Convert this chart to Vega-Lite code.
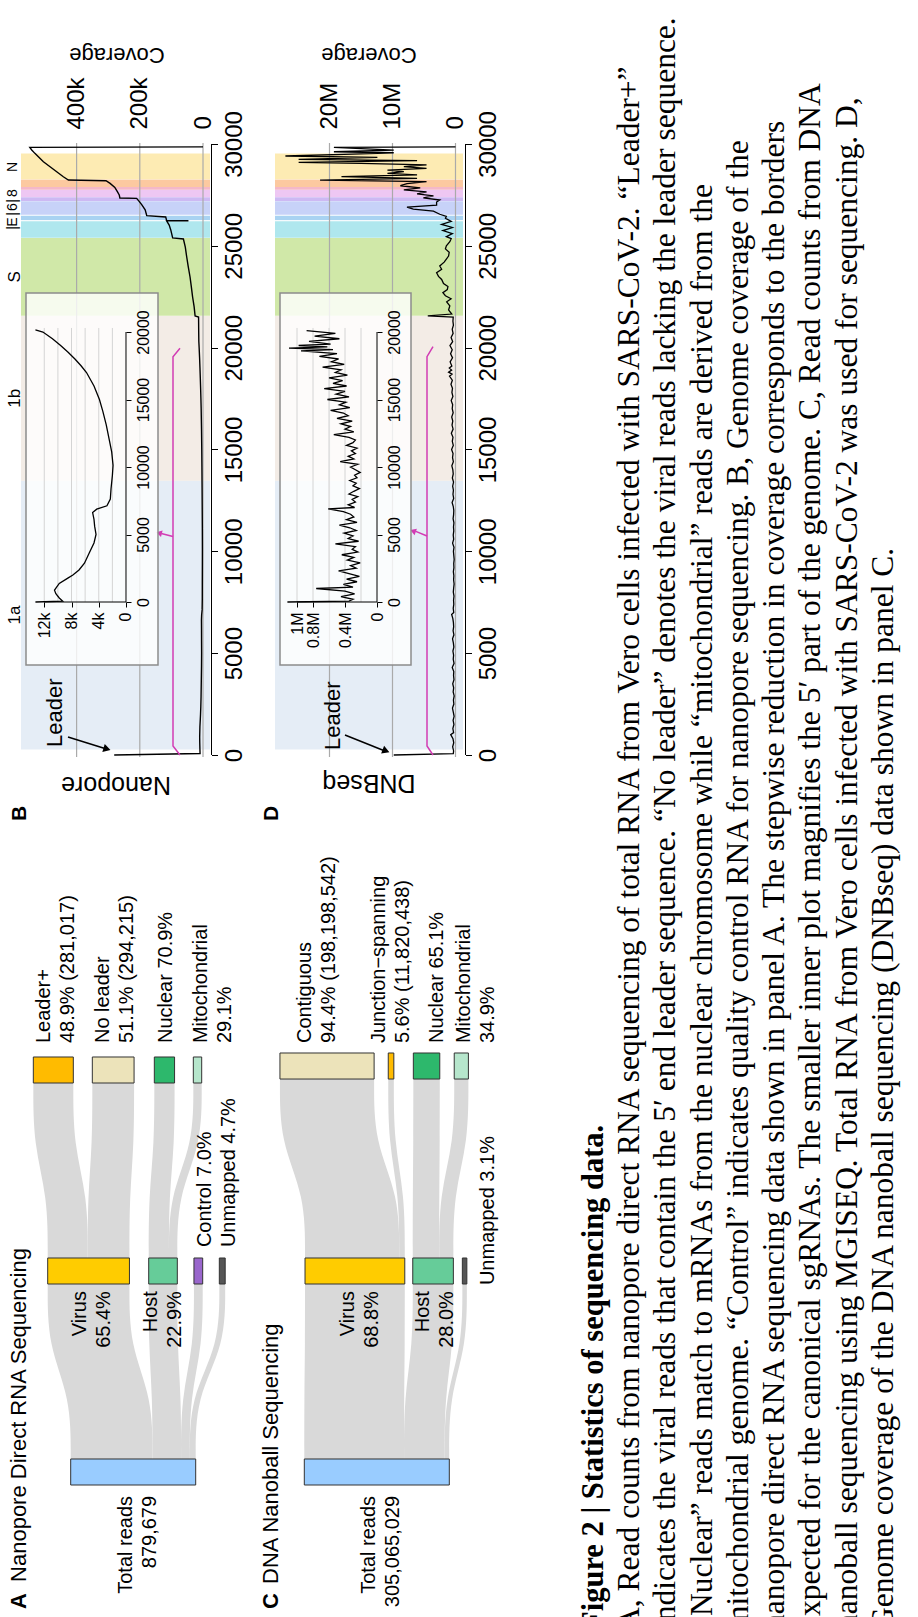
{
"$schema": "https://vega.github.io/schema/vega-lite/v6.json",
"width": 918, "height": 1617,
"autosize": {"type": "none"},
"padding": 0,
"background": "white",
"config": {"view": {"stroke": null}, "font": "Liberation Sans", "axis": {"labelColor": "#000", "tickColor": "#000", "labelFont": "Liberation Sans"}},
"datasets": {
"genes": [
{"gene":"ORF1a","start":266,"end":13483},{"gene":"ORF1b","start":13468,"end":21555},{"gene":"S","start":21563,"end":25384},{"gene":"ORF3a","start":25393,"end":26220},{"gene":"E","start":26245,"end":26472},{"gene":"M","start":26523,"end":27191},{"gene":"ORF6","start":27202,"end":27387},{"gene":"ORF7a","start":27394,"end":27759},{"gene":"ORF7b","start":27756,"end":27887},{"gene":"ORF8","start":27894,"end":28259},{"gene":"N","start":28274,"end":29533}],
"covB": [
{"pos":0,"cov":281017},{"pos":70,"cov":9300},{"pos":300,"cov":9800},{"pos":620,"cov":10300},{"pos":875,"cov":10500},{"pos":1375,"cov":9800},{"pos":1750,"cov":8600},{"pos":2000,"cov":7800},{"pos":2375,"cov":6900},{"pos":2875,"cov":6100},{"pos":3625,"cov":5400},{"pos":4375,"cov":4700},{"pos":5000,"cov":4400},{"pos":5600,"cov":4600},{"pos":6125,"cov":4700},{"pos":6625,"cov":4900},{"pos":6875,"cov":4300},{"pos":7125,"cov":2800},{"pos":7625,"cov":2300},{"pos":8375,"cov":2200},{"pos":9375,"cov":2000},{"pos":10125,"cov":1900},{"pos":11125,"cov":2100},{"pos":12125,"cov":2500},{"pos":13125,"cov":2900},{"pos":14125,"cov":3400},{"pos":15000,"cov":3900},{"pos":16000,"cov":4700},{"pos":17000,"cov":5800},{"pos":17500,"cov":6600},{"pos":18000,"cov":7500},{"pos":18500,"cov":8500},{"pos":19000,"cov":9600},{"pos":19500,"cov":10800},{"pos":20000,"cov":12200},{"pos":20300,"cov":13200},{"pos":20800,"cov":13600},{"pos":21500,"cov":14000},{"pos":21560,"cov":25000},{"pos":22000,"cov":28000},{"pos":22500,"cov":33000},{"pos":23000,"cov":37000},{"pos":23470,"cov":41000},{"pos":24000,"cov":47000},{"pos":24500,"cov":52000},{"pos":24940,"cov":56000},{"pos":25335,"cov":62000},{"pos":25390,"cov":96000},{"pos":25780,"cov":102000},{"pos":26020,"cov":107000},{"pos":26225,"cov":115000},{"pos":26230,"cov":46000},{"pos":26240,"cov":115000},{"pos":26415,"cov":118000},{"pos":26480,"cov":178000},{"pos":26770,"cov":183000},{"pos":27020,"cov":194000},{"pos":27180,"cov":202000},{"pos":27330,"cov":210000},{"pos":27350,"cov":263000},{"pos":27495,"cov":265000},{"pos":27660,"cov":271000},{"pos":27870,"cov":279000},{"pos":28065,"cov":294000},{"pos":28195,"cov":307000},{"pos":28230,"cov":426000},{"pos":28390,"cov":442000},{"pos":28640,"cov":463000},{"pos":28885,"cov":484000},{"pos":29130,"cov":505000},{"pos":29375,"cov":521000},{"pos":29540,"cov":532000},{"pos":29705,"cov":542000},{"pos":29835,"cov":548000},{"pos":29860,"cov":0}],
"innerB": [
{"pos":0,"cov":13300},{"pos":70,"cov":9300},{"pos":300,"cov":9800},{"pos":620,"cov":10300},{"pos":875,"cov":10500},{"pos":1375,"cov":9800},{"pos":1750,"cov":8600},{"pos":2000,"cov":7800},{"pos":2375,"cov":6900},{"pos":2875,"cov":6100},{"pos":3625,"cov":5400},{"pos":4375,"cov":4700},{"pos":5000,"cov":4400},{"pos":5600,"cov":4600},{"pos":6125,"cov":4700},{"pos":6625,"cov":4900},{"pos":6875,"cov":4300},{"pos":7125,"cov":2800},{"pos":7625,"cov":2300},{"pos":8375,"cov":2200},{"pos":9375,"cov":2000},{"pos":10125,"cov":1900},{"pos":11125,"cov":2100},{"pos":12125,"cov":2500},{"pos":13125,"cov":2900},{"pos":14125,"cov":3400},{"pos":15000,"cov":3900},{"pos":16000,"cov":4700},{"pos":17000,"cov":5800},{"pos":17500,"cov":6600},{"pos":18000,"cov":7500},{"pos":18500,"cov":8500},{"pos":19000,"cov":9600},{"pos":19500,"cov":10800},{"pos":20000,"cov":12200},{"pos":20150,"cov":13300}],
"covD": [
{"pos":0,"cov":9800000},{"pos":70,"cov":350000},{"pos":200,"cov":300000},{"pos":400,"cov":450000},{"pos":600,"cov":280000},{"pos":800,"cov":400000},{"pos":1000,"cov":760000},{"pos":1100,"cov":300000},{"pos":1300,"cov":420000},{"pos":1500,"cov":250000},{"pos":1700,"cov":380000},{"pos":1900,"cov":220000},{"pos":2100,"cov":350000},{"pos":2300,"cov":480000},{"pos":2500,"cov":260000},{"pos":2700,"cov":330000},{"pos":2900,"cov":210000},{"pos":3100,"cov":370000},{"pos":3300,"cov":290000},{"pos":3500,"cov":440000},{"pos":3700,"cov":240000},{"pos":3900,"cov":310000},{"pos":4100,"cov":270000},{"pos":4300,"cov":520000},{"pos":4500,"cov":230000},{"pos":4700,"cov":360000},{"pos":4900,"cov":300000},{"pos":5100,"cov":410000},{"pos":5300,"cov":260000},{"pos":5500,"cov":340000},{"pos":5700,"cov":470000},{"pos":5900,"cov":250000},{"pos":6100,"cov":380000},{"pos":6300,"cov":290000},{"pos":6500,"cov":330000},{"pos":6700,"cov":420000},{"pos":6900,"cov":610000},{"pos":7000,"cov":280000},{"pos":7200,"cov":360000},{"pos":7400,"cov":270000},{"pos":7600,"cov":310000},{"pos":7800,"cov":240000},{"pos":8000,"cov":350000},{"pos":8200,"cov":290000},{"pos":8400,"cov":220000},{"pos":8600,"cov":300000},{"pos":8800,"cov":260000},{"pos":9000,"cov":340000},{"pos":9200,"cov":250000},{"pos":9400,"cov":280000},{"pos":9600,"cov":210000},{"pos":9800,"cov":270000},{"pos":10000,"cov":330000},{"pos":10200,"cov":240000},{"pos":10400,"cov":460000},{"pos":10600,"cov":290000},{"pos":10800,"cov":360000},{"pos":11000,"cov":270000},{"pos":11200,"cov":320000},{"pos":11400,"cov":250000},{"pos":11600,"cov":380000},{"pos":11800,"cov":300000},{"pos":12000,"cov":270000},{"pos":12200,"cov":350000},{"pos":12400,"cov":540000},{"pos":12600,"cov":290000},{"pos":12800,"cov":400000},{"pos":13000,"cov":330000},{"pos":13200,"cov":450000},{"pos":13400,"cov":310000},{"pos":13600,"cov":500000},{"pos":13800,"cov":360000},{"pos":14000,"cov":420000},{"pos":14200,"cov":580000},{"pos":14400,"cov":340000},{"pos":14600,"cov":470000},{"pos":14800,"cov":390000},{"pos":15000,"cov":620000},{"pos":15200,"cov":350000},{"pos":15400,"cov":510000},{"pos":15600,"cov":400000},{"pos":15800,"cov":660000},{"pos":16000,"cov":380000},{"pos":16200,"cov":550000},{"pos":16400,"cov":430000},{"pos":16600,"cov":600000},{"pos":16800,"cov":370000},{"pos":17000,"cov":520000},{"pos":17200,"cov":450000},{"pos":17400,"cov":680000},{"pos":17600,"cov":410000},{"pos":17800,"cov":570000},{"pos":18000,"cov":480000},{"pos":18200,"cov":720000},{"pos":18400,"cov":500000},{"pos":18600,"cov":950000},{"pos":18700,"cov":550000},{"pos":18800,"cov":1100000},{"pos":18900,"cov":620000},{"pos":19000,"cov":980000},{"pos":19100,"cov":580000},{"pos":19300,"cov":850000},{"pos":19500,"cov":470000},{"pos":19700,"cov":780000},{"pos":19900,"cov":520000},{"pos":20100,"cov":880000},{"pos":20300,"cov":450000},{"pos":20500,"cov":700000},{"pos":20700,"cov":380000},{"pos":20900,"cov":520000},{"pos":21100,"cov":330000},{"pos":21300,"cov":410000},{"pos":21500,"cov":360000},{"pos":21560,"cov":4400000},{"pos":21650,"cov":600000},{"pos":21850,"cov":1100000},{"pos":22050,"cov":900000},{"pos":22250,"cov":1400000},{"pos":22400,"cov":700000},{"pos":22550,"cov":1600000},{"pos":22700,"cov":2000000},{"pos":22850,"cov":1300000},{"pos":23000,"cov":1200000},{"pos":23150,"cov":1900000},{"pos":23350,"cov":2200000},{"pos":23500,"cov":2700000},{"pos":23680,"cov":3000000},{"pos":23850,"cov":2200000},{"pos":24010,"cov":2500000},{"pos":24200,"cov":1800000},{"pos":24350,"cov":1450000},{"pos":24500,"cov":1100000},{"pos":24680,"cov":1000000},{"pos":24850,"cov":1600000},{"pos":25000,"cov":1450000},{"pos":25200,"cov":900000},{"pos":25350,"cov":680000},{"pos":25450,"cov":1450000},{"pos":25600,"cov":500000},{"pos":25750,"cov":2000000},{"pos":25900,"cov":500000},{"pos":26050,"cov":2200000},{"pos":26200,"cov":680000},{"pos":26350,"cov":1600000},{"pos":26450,"cov":1450000},{"pos":26550,"cov":2500000},{"pos":26700,"cov":3500000},{"pos":26800,"cov":6700000},{"pos":26900,"cov":7700000},{"pos":27000,"cov":3000000},{"pos":27150,"cov":3000000},{"pos":27250,"cov":2500000},{"pos":27350,"cov":5100000},{"pos":27450,"cov":3500000},{"pos":27550,"cov":6100000},{"pos":27650,"cov":4600000},{"pos":27750,"cov":8200000},{"pos":27850,"cov":5600000},{"pos":27950,"cov":8750000},{"pos":28050,"cov":7700000},{"pos":28150,"cov":4600000},{"pos":28230,"cov":21500000},{"pos":28315,"cov":6100000},{"pos":28395,"cov":18100000},{"pos":28480,"cov":6100000},{"pos":28560,"cov":10800000},{"pos":28640,"cov":8200000},{"pos":28720,"cov":10800000},{"pos":28805,"cov":4600000},{"pos":28885,"cov":8200000},{"pos":28970,"cov":4600000},{"pos":29050,"cov":15000000},{"pos":29100,"cov":24900000},{"pos":29180,"cov":6100000},{"pos":29245,"cov":24900000},{"pos":29345,"cov":12400000},{"pos":29410,"cov":27000000},{"pos":29510,"cov":15000000},{"pos":29570,"cov":9800000},{"pos":29620,"cov":19300000},{"pos":29700,"cov":9800000},{"pos":29835,"cov":19300000},{"pos":29860,"cov":0}],
"innerD": [
{"pos":0,"cov":1120000},{"pos":70,"cov":350000},{"pos":200,"cov":300000},{"pos":400,"cov":450000},{"pos":600,"cov":280000},{"pos":800,"cov":400000},{"pos":1000,"cov":760000},{"pos":1100,"cov":300000},{"pos":1300,"cov":420000},{"pos":1500,"cov":250000},{"pos":1700,"cov":380000},{"pos":1900,"cov":220000},{"pos":2100,"cov":350000},{"pos":2300,"cov":480000},{"pos":2500,"cov":260000},{"pos":2700,"cov":330000},{"pos":2900,"cov":210000},{"pos":3100,"cov":370000},{"pos":3300,"cov":290000},{"pos":3500,"cov":440000},{"pos":3700,"cov":240000},{"pos":3900,"cov":310000},{"pos":4100,"cov":270000},{"pos":4300,"cov":520000},{"pos":4500,"cov":230000},{"pos":4700,"cov":360000},{"pos":4900,"cov":300000},{"pos":5100,"cov":410000},{"pos":5300,"cov":260000},{"pos":5500,"cov":340000},{"pos":5700,"cov":470000},{"pos":5900,"cov":250000},{"pos":6100,"cov":380000},{"pos":6300,"cov":290000},{"pos":6500,"cov":330000},{"pos":6700,"cov":420000},{"pos":6900,"cov":610000},{"pos":7000,"cov":280000},{"pos":7200,"cov":360000},{"pos":7400,"cov":270000},{"pos":7600,"cov":310000},{"pos":7800,"cov":240000},{"pos":8000,"cov":350000},{"pos":8200,"cov":290000},{"pos":8400,"cov":220000},{"pos":8600,"cov":300000},{"pos":8800,"cov":260000},{"pos":9000,"cov":340000},{"pos":9200,"cov":250000},{"pos":9400,"cov":280000},{"pos":9600,"cov":210000},{"pos":9800,"cov":270000},{"pos":10000,"cov":330000},{"pos":10200,"cov":240000},{"pos":10400,"cov":460000},{"pos":10600,"cov":290000},{"pos":10800,"cov":360000},{"pos":11000,"cov":270000},{"pos":11200,"cov":320000},{"pos":11400,"cov":250000},{"pos":11600,"cov":380000},{"pos":11800,"cov":300000},{"pos":12000,"cov":270000},{"pos":12200,"cov":350000},{"pos":12400,"cov":540000},{"pos":12600,"cov":290000},{"pos":12800,"cov":400000},{"pos":13000,"cov":330000},{"pos":13200,"cov":450000},{"pos":13400,"cov":310000},{"pos":13600,"cov":500000},{"pos":13800,"cov":360000},{"pos":14000,"cov":420000},{"pos":14200,"cov":580000},{"pos":14400,"cov":340000},{"pos":14600,"cov":470000},{"pos":14800,"cov":390000},{"pos":15000,"cov":620000},{"pos":15200,"cov":350000},{"pos":15400,"cov":510000},{"pos":15600,"cov":400000},{"pos":15800,"cov":660000},{"pos":16000,"cov":380000},{"pos":16200,"cov":550000},{"pos":16400,"cov":430000},{"pos":16600,"cov":600000},{"pos":16800,"cov":370000},{"pos":17000,"cov":520000},{"pos":17200,"cov":450000},{"pos":17400,"cov":680000},{"pos":17600,"cov":410000},{"pos":17800,"cov":570000},{"pos":18000,"cov":480000},{"pos":18200,"cov":720000},{"pos":18400,"cov":500000},{"pos":18600,"cov":950000},{"pos":18700,"cov":550000},{"pos":18800,"cov":1100000},{"pos":18900,"cov":620000},{"pos":19000,"cov":980000},{"pos":19100,"cov":580000},{"pos":19300,"cov":850000},{"pos":19500,"cov":470000},{"pos":19700,"cov":780000},{"pos":19900,"cov":520000},{"pos":20100,"cov":880000}],
"flowsA": [
{"flow":"f1","s":0.0647,"lo":0,"hi":65.4},{"flow":"f1","s":0.3694,"lo":0,"hi":65.4},{"flow":"f1","s":0.6306,"lo":-18.4,"hi":47.0},{"flow":"f1","s":0.9353,"lo":-18.4,"hi":47.0},
{"flow":"f2","s":0.0647,"lo":65.4,"hi":88.3},{"flow":"f2","s":0.3694,"lo":65.4,"hi":88.3},{"flow":"f2","s":0.6306,"lo":62.4,"hi":85.3},{"flow":"f2","s":0.9353,"lo":62.4,"hi":85.3},
{"flow":"f3","s":0.0647,"lo":88.3,"hi":95.3},{"flow":"f3","s":0.3694,"lo":88.3,"hi":95.3},{"flow":"f3","s":0.6306,"lo":98.6,"hi":105.6},{"flow":"f3","s":0.9353,"lo":98.6,"hi":105.6},
{"flow":"f4","s":0.0647,"lo":95.3,"hi":100},{"flow":"f4","s":0.3694,"lo":95.3,"hi":100},{"flow":"f4","s":0.6306,"lo":118.9,"hi":123.6},{"flow":"f4","s":0.9353,"lo":118.9,"hi":123.6},
{"flow":"f5","s":1.0647,"lo":-18.4,"hi":13.6},{"flow":"f5","s":1.3694,"lo":-18.4,"hi":13.6},{"flow":"f5","s":1.6306,"lo":-29.9,"hi":2.1},{"flow":"f5","s":1.9353,"lo":-29.9,"hi":2.1},
{"flow":"f6","s":1.0647,"lo":13.6,"hi":47.0},{"flow":"f6","s":1.3694,"lo":13.6,"hi":47.0},{"flow":"f6","s":1.6306,"lo":17.3,"hi":50.7},{"flow":"f6","s":1.9353,"lo":17.3,"hi":50.7},
{"flow":"f7","s":1.0647,"lo":62.4,"hi":78.6},{"flow":"f7","s":1.3694,"lo":62.4,"hi":78.6},{"flow":"f7","s":1.6306,"lo":66.9,"hi":83.1},{"flow":"f7","s":1.9353,"lo":66.9,"hi":83.1},
{"flow":"f8","s":1.0647,"lo":78.6,"hi":85.3},{"flow":"f8","s":1.3694,"lo":78.6,"hi":85.3},{"flow":"f8","s":1.6306,"lo":98.1,"hi":104.8},{"flow":"f8","s":1.9353,"lo":98.1,"hi":104.8}],
"flowsC": [
{"flow":"g1","s":0.0647,"lo":0,"hi":68.8},{"flow":"g1","s":0.3694,"lo":0,"hi":68.8},{"flow":"g1","s":0.6306,"lo":0.5,"hi":69.3},{"flow":"g1","s":0.9353,"lo":0.5,"hi":69.3},
{"flow":"g2","s":0.0647,"lo":68.8,"hi":96.8},{"flow":"g2","s":0.3694,"lo":68.8,"hi":96.8},{"flow":"g2","s":0.6306,"lo":74.8,"hi":102.8},{"flow":"g2","s":0.9353,"lo":74.8,"hi":102.8},
{"flow":"g3","s":0.0647,"lo":96.8,"hi":99.9},{"flow":"g3","s":0.3694,"lo":96.8,"hi":99.9},{"flow":"g3","s":0.6306,"lo":109,"hi":112.1},{"flow":"g3","s":0.9353,"lo":109,"hi":112.1},
{"flow":"g4","s":1.0647,"lo":0.5,"hi":65.45},{"flow":"g4","s":1.3763,"lo":0.5,"hi":65.45},{"flow":"g4","s":1.6434,"lo":-16.8,"hi":48.15},{"flow":"g4","s":1.955,"lo":-16.8,"hi":48.15},
{"flow":"g5","s":1.0647,"lo":65.45,"hi":69.3},{"flow":"g5","s":1.3763,"lo":65.45,"hi":69.3},{"flow":"g5","s":1.6434,"lo":57.9,"hi":61.75},{"flow":"g5","s":1.955,"lo":57.9,"hi":61.75},
{"flow":"g6","s":1.0647,"lo":74.8,"hi":93.03},{"flow":"g6","s":1.3763,"lo":74.8,"hi":93.03},{"flow":"g6","s":1.6434,"lo":75.2,"hi":93.43},{"flow":"g6","s":1.955,"lo":75.2,"hi":93.43},
{"flow":"g7","s":1.0647,"lo":93.03,"hi":102.8},{"flow":"g7","s":1.3763,"lo":93.03,"hi":102.8},{"flow":"g7","s":1.6434,"lo":103.4,"hi":113.17},{"flow":"g7","s":1.955,"lo":103.4,"hi":113.17}],
"nodesA": [
{"node":"Total","x0":0,"x1":100,"y0":-0.0647,"y1":0.0647},{"node":"Virus","x0":-18.4,"x1":47.0,"y0":0.9353,"y1":1.0647},{"node":"Host","x0":62.4,"x1":85.3,"y0":0.9353,"y1":1.0647},{"node":"Control","x0":98.6,"x1":105.6,"y0":0.9353,"y1":1.0647},{"node":"Unmapped","x0":118.9,"x1":123.6,"y0":0.9353,"y1":1.0647},{"node":"Leader+","x0":-29.9,"x1":2.1,"y0":1.9353,"y1":2.0647},{"node":"No leader","x0":17.3,"x1":50.7,"y0":1.9353,"y1":2.0647},{"node":"Nuclear","x0":66.9,"x1":83.1,"y0":1.9353,"y1":2.0647},{"node":"Mitochondrial","x0":98.1,"x1":104.8,"y0":1.9353,"y1":2.0647}],
"nodesC": [
{"node":"Total","x0":0,"x1":100,"y0":-0.0647,"y1":0.0647},{"node":"Virus","x0":0.5,"x1":69.3,"y0":0.9353,"y1":1.0647},{"node":"Host","x0":74.8,"x1":102.8,"y0":0.9353,"y1":1.0647},{"node":"Unmapped","x0":109,"x1":112.1,"y0":0.9353,"y1":1.0647},{"node":"Contiguous","x0":-16.8,"x1":48.15,"y0":1.955,"y1":2.0846},{"node":"Junction-spanning","x0":57.9,"x1":61.75,"y0":1.955,"y1":2.0846},{"node":"Nuclear","x0":75.2,"x1":93.43,"y0":1.955,"y1":2.0846},{"node":"Mitochondrial","x0":103.4,"x1":113.17,"y0":1.955,"y1":2.0846}],
"belowA": [{"l1":"Total reads","l2":"879,679","x":44.2,"s":-0.119},{"l1":"Virus","l2":"65.4%","x":7.2,"s":0.9},{"l1":"Host","l2":"22.9%","x":64.2,"s":0.9}],
"aboveA": [{"l1":"Leader+","l2":"48.9% (281,017)","x":-21.0,"s":2.134},{"l1":"No leader","l2":"51.1% (294,215)","x":25.8,"s":2.134},{"l1":"Nuclear 70.9%","l2":"","x":75.9,"s":2.134},{"l1":"Mitochondrial","l2":"29.1%","x":104.0,"s":2.134},{"l1":"Control 7.0%","l2":"Unmapped 4.7%","x":107.4,"s":1.119}],
"belowC": [{"l1":"Total reads","l2":"305,065,029","x":44.8,"s":-0.119},{"l1":"Virus","l2":"68.8%","x":29.9,"s":0.9},{"l1":"Host","l2":"28.0%","x":81.7,"s":0.9}],
"aboveC": [{"l1":"Contiguous","l2":"94.4% (198,198,542)","x":0.8,"s":2.134},{"l1":"Junction−spanning","l2":"5.6% (11,820,438)","x":51.7,"s":2.134},{"l1":"Nuclear 65.1%","l2":"","x":91.7,"s":2.134},{"l1":"Mitochondrial","l2":"34.9%","x":110.4,"s":2.134},{"l1":"Unmapped 3.1%","l2":"","x":126.5,"s":0.93}],
"caption": [
{"line":1,"text":"Figure 2 | Statistics of sequencing data."},
{"line":2,"text":"A, Read counts from nanopore direct RNA sequencing of total RNA from Vero cells infected with SARS-CoV-2.  “Leader+”"},
{"line":3,"text":"indicates the viral reads that contain the 5′ end leader sequence.  “No leader” denotes the viral reads lacking the leader sequence."},
{"line":4,"text":"“Nuclear” reads match to mRNAs from the nuclear chromosome while “mitochondrial” reads are derived from the"},
{"line":5,"text":"mitochondrial genome.  “Control” indicates quality control RNA for nanopore sequencing.  B, Genome coverage of the"},
{"line":6,"text":"nanopore direct RNA sequencing data shown in panel A. The stepwise reduction in coverage corresponds to the borders"},
{"line":7,"text":"expected for the canonical sgRNAs. The smaller inner plot magnifies the 5′ part of the genome.  C, Read counts from DNA"},
{"line":8,"text":"nanoball sequencing using MGISEQ. Total RNA from Vero cells infected with SARS-CoV-2 was used for sequencing.  D,"},
{"line":9,"text":"Genome coverage of the DNA nanoball sequencing (DNBseq) data shown in panel C."}]
},
"resolve": {"scale": {"x": "independent", "y": "independent", "color": "independent"}, "axis": {"x": "independent", "y": "independent"}},
"layer": [
 {"data": {"name": "genes"}, "mark": {"type": "rect"},
  "encoding": {"x": {"datum": 575949, "type": "quantitative", "scale": {"domain": [-2262658, 642405], "reverse": true, "nice": false, "zero": false}, "axis": null}, "x2": {"datum": -22152},
   "y": {"field": "start", "type": "quantitative", "scale": {"domain": [-42324, 37070], "nice": false, "zero": false}, "axis": null}, "y2": {"field": "end"},
   "color": {"field": "gene", "type": "nominal", "scale": {"domain": ["ORF1a","ORF1b","S","ORF3a","E","M","ORF6","ORF7a","ORF7b","ORF8","N"], "range": ["#e5edf6","#f3ece6","#d0e8a8","#afe7ee","#a9d3f2","#c7d2f8","#cdb9f3","#eec7f3","#f4b8c8","#fcc9a0","#fdebb3"]}, "legend": null}}},
 {"data": {"values": [{"b": 26232}]}, "mark": {"type": "rule", "color": "#ffffff", "strokeWidth": 1.2},
  "encoding": {"y": {"field": "b", "type": "quantitative", "scale": {"domain": [-42324, 37070], "nice": false, "zero": false}, "axis": null}, "x": {"datum": 575949, "type": "quantitative", "scale": {"domain": [-2262658, 642405], "reverse": true, "nice": false, "zero": false}, "axis": null}, "x2": {"datum": -22152}}},
 {"data": {"values": [{"g": 0}, {"g": 200000}, {"g": 400000}]}, "mark": {"type": "rule", "color": "#aaaaaa", "strokeWidth": 1.2},
  "encoding": {"x": {"field": "g", "type": "quantitative", "scale": {"domain": [-2262658, 642405], "reverse": true, "nice": false, "zero": false}, "axis": null}, "y": {"datum": -100, "type": "quantitative", "scale": {"domain": [-42324, 37070], "nice": false, "zero": false}, "axis": null}, "y2": {"datum": 30050}}},
 {"data": {"values": [{"a": 0, "b": 30000}]}, "mark": {"type": "rule", "color": "#000000", "strokeWidth": 1},
  "encoding": {"x": {"datum": -26899, "type": "quantitative", "scale": {"domain": [-2262658, 642405], "reverse": true, "nice": false, "zero": false}, "axis": null}, "y": {"field": "a", "type": "quantitative", "scale": {"domain": [-42324, 37070], "nice": false, "zero": false}, "axis": null}, "y2": {"field": "b"}}},
 {"data": {"name": "covB"}, "mark": {"type": "line", "color": "#000000", "strokeWidth": 1.4},
  "encoding": {"x": {"field": "cov", "type": "quantitative", "scale": {"domain": [-2262658, 642405], "reverse": true, "nice": false, "zero": false},
     "axis": {"orient": "top", "offset": -129, "values": [0, 200000, 400000], "labelExpr": "datum.value == 0 ? '0' : format(datum.value / 1000, 'd') + 'k'", "labelAngle": 270, "labelAlign": "left", "labelBaseline": "middle", "labelFontSize": 24, "ticks": false, "tickSize": 0, "labelPadding": 0, "domain": false, "grid": false, "title": null, "labelFlush": false, "labelOverlap": false, "zindex": 2}},
   "y": {"field": "pos", "type": "quantitative", "scale": {"domain": [-42324, 37070], "nice": false, "zero": false},
     "axis": {"orient": "right", "offset": -706.5, "values": [0, 5000, 10000, 15000, 20000, 25000, 30000], "format": "d", "labelAngle": 270, "labelAlign": "center", "labelBaseline": "top", "labelFontSize": 24, "labelPadding": 5, "ticks": true, "tickSize": 6, "tickWidth": 1, "domain": false, "grid": false, "title": null, "labelFlush": false, "labelOverlap": false, "zindex": 2}},
   "order": {"field": "pos", "type": "quantitative"}}},
 {"data": {"values": [{"i": 0, "pos": 0, "cov": 72785}, {"i": 1, "pos": 440, "cov": 94937}, {"i": 2, "pos": 19556, "cov": 94937}, {"i": 3, "pos": 19968, "cov": 72785}]}, "mark": {"type": "line", "color": "#d23cb4", "strokeWidth": 1.5},
  "encoding": {"x": {"field": "cov", "type": "quantitative", "scale": {"domain": [-2262658, 642405], "reverse": true, "nice": false, "zero": false}, "axis": null}, "y": {"field": "pos", "type": "quantitative", "scale": {"domain": [-42324, 37070], "nice": false, "zero": false}, "axis": null}, "order": {"field": "i", "type": "quantitative"}}},
 {"data": {"values": [{"i": 0, "pos": 10728, "cov": 94937}, {"i": 1, "pos": 10880, "cov": 132000}]}, "mark": {"type": "line", "color": "#d23cb4", "strokeWidth": 1.5},
  "encoding": {"x": {"field": "cov", "type": "quantitative", "scale": {"domain": [-2262658, 642405], "reverse": true, "nice": false, "zero": false}, "axis": null}, "y": {"field": "pos", "type": "quantitative", "scale": {"domain": [-42324, 37070], "nice": false, "zero": false}, "axis": null}, "order": {"field": "i", "type": "quantitative"}}},
 {"data": {"values": [{"pos": 10900, "cov": 139241}]}, "mark": {"type": "point", "shape": "triangle-left", "filled": true, "color": "#d23cb4", "size": 45, "angle": 14, "opacity": 1},
  "encoding": {"x": {"field": "cov", "type": "quantitative", "scale": {"domain": [-2262658, 642405], "reverse": true, "nice": false, "zero": false}, "axis": null}, "y": {"field": "pos", "type": "quantitative", "scale": {"domain": [-42324, 37070], "nice": false, "zero": false}, "axis": null}}},
 {"data": {"values": [{"i": 0, "pos": 884, "cov": 427215}, {"i": 1, "pos": 330, "cov": 313000}]}, "mark": {"type": "line", "color": "#000000", "strokeWidth": 1.5},
  "encoding": {"x": {"field": "cov", "type": "quantitative", "scale": {"domain": [-2262658, 642405], "reverse": true, "nice": false, "zero": false}, "axis": null}, "y": {"field": "pos", "type": "quantitative", "scale": {"domain": [-42324, 37070], "nice": false, "zero": false}, "axis": null}, "order": {"field": "i", "type": "quantitative"}}},
 {"data": {"values": [{"pos": 295, "cov": 303797}]}, "mark": {"type": "point", "shape": "triangle-right", "filled": true, "color": "#000000", "size": 70, "angle": 17, "opacity": 1},
  "encoding": {"x": {"field": "cov", "type": "quantitative", "scale": {"domain": [-2262658, 642405], "reverse": true, "nice": false, "zero": false}, "axis": null}, "y": {"field": "pos", "type": "quantitative", "scale": {"domain": [-42324, 37070], "nice": false, "zero": false}, "axis": null}}},
 {"data": {"values": [{"t": "Leader"}]}, "mark": {"type": "text", "angle": 270, "align": "left", "baseline": "alphabetic", "fontSize": 22},
  "encoding": {"x": {"datum": 446203, "type": "quantitative", "scale": {"domain": [-2262658, 642405], "reverse": true, "nice": false, "zero": false}, "axis": null}, "y": {"datum": 393, "type": "quantitative", "scale": {"domain": [-42324, 37070], "nice": false, "zero": false}, "axis": null}, "text": {"field": "t"}}},
 {"data": {"values": [{"t": "1a", "pos": 6875}, {"t": "1b", "pos": 17511}, {"t": "S", "pos": 23473}]}, "mark": {"type": "text", "angle": 270, "align": "center", "baseline": "alphabetic", "fontSize": 17},
  "encoding": {"x": {"datum": 579114, "type": "quantitative", "scale": {"domain": [-2262658, 642405], "reverse": true, "nice": false, "zero": false}, "axis": null}, "y": {"field": "pos", "type": "quantitative", "scale": {"domain": [-42324, 37070], "nice": false, "zero": false}, "axis": null}, "text": {"field": "t"}}},
 {"data": {"values": [{"t": "|", "pos": 25875}, {"t": "E", "pos": 26170}, {"t": "|", "pos": 26563}, {"t": "6", "pos": 26906}, {"t": "|", "pos": 27201}, {"t": "8", "pos": 27594}, {"t": "N", "pos": 28871}]}, "mark": {"type": "text", "angle": 270, "align": "center", "baseline": "alphabetic", "fontSize": 14},
  "encoding": {"x": {"datum": 588608, "type": "quantitative", "scale": {"domain": [-2262658, 642405], "reverse": true, "nice": false, "zero": false}, "axis": null}, "y": {"field": "pos", "type": "quantitative", "scale": {"domain": [-42324, 37070], "nice": false, "zero": false}, "axis": null}, "text": {"field": "t"}}},
 {"data": {"values": [{"t": "Nanopore"}]}, "mark": {"type": "text", "angle": 180, "align": "center", "baseline": "middle", "fontSize": 25},
  "encoding": {"x": {"datum": 275316, "type": "quantitative", "scale": {"domain": [-2262658, 642405], "reverse": true, "nice": false, "zero": false}, "axis": null}, "y": {"datum": -1473, "type": "quantitative", "scale": {"domain": [-42324, 37070], "nice": false, "zero": false}, "axis": null}, "text": {"field": "t"}}},
 {"data": {"values": [{"t": "Coverage"}]}, "mark": {"type": "text", "angle": 180, "align": "center", "baseline": "middle", "fontSize": 22},
  "encoding": {"x": {"datum": 272152, "type": "quantitative", "scale": {"domain": [-2262658, 642405], "reverse": true, "nice": false, "zero": false}, "axis": null}, "y": {"datum": 34370, "type": "quantitative", "scale": {"domain": [-42324, 37070], "nice": false, "zero": false}, "axis": null}, "text": {"field": "t"}}},
 {"data": {"values": [{"t": "B"}]}, "mark": {"type": "text", "angle": 270, "align": "left", "baseline": "alphabetic", "fontSize": 21, "fontWeight": "bold"},
  "encoding": {"x": {"datum": 559177, "type": "quantitative", "scale": {"domain": [-2262658, 642405], "reverse": true, "nice": false, "zero": false}, "axis": null}, "y": {"datum": -3241, "type": "quantitative", "scale": {"domain": [-42324, 37070], "nice": false, "zero": false}, "axis": null}, "text": {"field": "t"}}},

 {"data": {"name": "genes"}, "mark": {"type": "rect"},
  "encoding": {"x": {"datum": 28650794, "type": "quantitative", "scale": {"domain": [-73412698, 72301587], "reverse": true, "nice": false, "zero": false}, "axis": null}, "x2": {"datum": -1190476},
   "y": {"field": "start", "type": "quantitative", "scale": {"domain": [-42324, 37070], "nice": false, "zero": false}, "axis": null}, "y2": {"field": "end"},
   "color": {"field": "gene", "type": "nominal", "scale": {"domain": ["ORF1a","ORF1b","S","ORF3a","E","M","ORF6","ORF7a","ORF7b","ORF8","N"], "range": ["#e5edf6","#f3ece6","#d0e8a8","#afe7ee","#a9d3f2","#c7d2f8","#cdb9f3","#eec7f3","#f4b8c8","#fcc9a0","#fdebb3"]}, "legend": null}}},
 {"data": {"values": [{"b": 26232}]}, "mark": {"type": "rule", "color": "#ffffff", "strokeWidth": 1.2},
  "encoding": {"y": {"field": "b", "type": "quantitative", "scale": {"domain": [-42324, 37070], "nice": false, "zero": false}, "axis": null}, "x": {"datum": 28650794, "type": "quantitative", "scale": {"domain": [-73412698, 72301587], "reverse": true, "nice": false, "zero": false}, "axis": null}, "x2": {"datum": -1190476}}},
 {"data": {"values": [{"g": 0}, {"g": 10000000}, {"g": 20000000}]}, "mark": {"type": "rule", "color": "#aaaaaa", "strokeWidth": 1.2},
  "encoding": {"x": {"field": "g", "type": "quantitative", "scale": {"domain": [-73412698, 72301587], "reverse": true, "nice": false, "zero": false}, "axis": null}, "y": {"datum": -100, "type": "quantitative", "scale": {"domain": [-42324, 37070], "nice": false, "zero": false}, "axis": null}, "y2": {"datum": 30050}}},
 {"data": {"values": [{"a": 0, "b": 30000}]}, "mark": {"type": "rule", "color": "#000000", "strokeWidth": 1},
  "encoding": {"x": {"datum": -1587302, "type": "quantitative", "scale": {"domain": [-73412698, 72301587], "reverse": true, "nice": false, "zero": false}, "axis": null}, "y": {"field": "a", "type": "quantitative", "scale": {"domain": [-42324, 37070], "nice": false, "zero": false}, "axis": null}, "y2": {"field": "b"}}},
 {"data": {"name": "covD"}, "mark": {"type": "line", "color": "#000000", "strokeWidth": 1.3},
  "encoding": {"x": {"field": "cov", "type": "quantitative", "scale": {"domain": [-73412698, 72301587], "reverse": true, "nice": false, "zero": false},
     "axis": {"orient": "top", "offset": -129, "values": [0, 10000000, 20000000], "labelExpr": "datum.value == 0 ? '0' : format(datum.value / 1000000, 'd') + 'M'", "labelAngle": 270, "labelAlign": "left", "labelBaseline": "middle", "labelFontSize": 24, "ticks": false, "tickSize": 0, "labelPadding": 0, "domain": false, "grid": false, "title": null, "labelFlush": false, "labelOverlap": false, "zindex": 2}},
   "y": {"field": "pos", "type": "quantitative", "scale": {"domain": [-42324, 37070], "nice": false, "zero": false},
     "axis": {"orient": "right", "offset": -452.5, "values": [0, 5000, 10000, 15000, 20000, 25000, 30000], "format": "d", "labelAngle": 270, "labelAlign": "center", "labelBaseline": "top", "labelFontSize": 24, "labelPadding": 5, "ticks": true, "tickSize": 6, "tickWidth": 1, "domain": false, "grid": false, "title": null, "labelFlush": false, "labelOverlap": false, "zindex": 2}},
   "order": {"field": "pos", "type": "quantitative"}}},
 {"data": {"values": [{"i": 0, "pos": 0, "cov": 3571429}, {"i": 1, "pos": 440, "cov": 4523810}, {"i": 2, "pos": 19556, "cov": 4523810}, {"i": 3, "pos": 20047, "cov": 3571429}]}, "mark": {"type": "line", "color": "#d23cb4", "strokeWidth": 1.5},
  "encoding": {"x": {"field": "cov", "type": "quantitative", "scale": {"domain": [-73412698, 72301587], "reverse": true, "nice": false, "zero": false}, "axis": null}, "y": {"field": "pos", "type": "quantitative", "scale": {"domain": [-42324, 37070], "nice": false, "zero": false}, "axis": null}, "order": {"field": "i", "type": "quantitative"}}},
 {"data": {"values": [{"i": 0, "pos": 10752, "cov": 4523810}, {"i": 1, "pos": 10980, "cov": 6300000}]}, "mark": {"type": "line", "color": "#d23cb4", "strokeWidth": 1.5},
  "encoding": {"x": {"field": "cov", "type": "quantitative", "scale": {"domain": [-73412698, 72301587], "reverse": true, "nice": false, "zero": false}, "axis": null}, "y": {"field": "pos", "type": "quantitative", "scale": {"domain": [-42324, 37070], "nice": false, "zero": false}, "axis": null}, "order": {"field": "i", "type": "quantitative"}}},
 {"data": {"values": [{"pos": 10998, "cov": 6746032}]}, "mark": {"type": "point", "shape": "triangle-left", "filled": true, "color": "#d23cb4", "size": 45, "angle": 20, "opacity": 1},
  "encoding": {"x": {"field": "cov", "type": "quantitative", "scale": {"domain": [-73412698, 72301587], "reverse": true, "nice": false, "zero": false}, "axis": null}, "y": {"field": "pos", "type": "quantitative", "scale": {"domain": [-42324, 37070], "nice": false, "zero": false}, "axis": null}}},
 {"data": {"values": [{"i": 0, "pos": 982, "cov": 17539683}, {"i": 1, "pos": 230, "cov": 11500000}]}, "mark": {"type": "line", "color": "#000000", "strokeWidth": 1.5},
  "encoding": {"x": {"field": "cov", "type": "quantitative", "scale": {"domain": [-73412698, 72301587], "reverse": true, "nice": false, "zero": false}, "axis": null}, "y": {"field": "pos", "type": "quantitative", "scale": {"domain": [-42324, 37070], "nice": false, "zero": false}, "axis": null}, "order": {"field": "i", "type": "quantitative"}}},
 {"data": {"values": [{"pos": 196, "cov": 11031746}]}, "mark": {"type": "point", "shape": "triangle-right", "filled": true, "color": "#000000", "size": 70, "angle": 21, "opacity": 1},
  "encoding": {"x": {"field": "cov", "type": "quantitative", "scale": {"domain": [-73412698, 72301587], "reverse": true, "nice": false, "zero": false}, "axis": null}, "y": {"field": "pos", "type": "quantitative", "scale": {"domain": [-42324, 37070], "nice": false, "zero": false}, "axis": null}}},
 {"data": {"values": [{"t": "Leader"}]}, "mark": {"type": "text", "angle": 270, "align": "left", "baseline": "alphabetic", "fontSize": 22},
  "encoding": {"x": {"datum": 18396825, "type": "quantitative", "scale": {"domain": [-73412698, 72301587], "reverse": true, "nice": false, "zero": false}, "axis": null}, "y": {"datum": 245, "type": "quantitative", "scale": {"domain": [-42324, 37070], "nice": false, "zero": false}, "axis": null}, "text": {"field": "t"}}},
 {"data": {"values": [{"t": "DNBseq"}]}, "mark": {"type": "text", "angle": 180, "align": "center", "baseline": "middle", "fontSize": 25},
  "encoding": {"x": {"datum": 13730159, "type": "quantitative", "scale": {"domain": [-73412698, 72301587], "reverse": true, "nice": false, "zero": false}, "axis": null}, "y": {"datum": -1375, "type": "quantitative", "scale": {"domain": [-42324, 37070], "nice": false, "zero": false}, "axis": null}, "text": {"field": "t"}}},
 {"data": {"values": [{"t": "Coverage"}]}, "mark": {"type": "text", "angle": 180, "align": "center", "baseline": "middle", "fontSize": 22},
  "encoding": {"x": {"datum": 13730159, "type": "quantitative", "scale": {"domain": [-73412698, 72301587], "reverse": true, "nice": false, "zero": false}, "axis": null}, "y": {"datum": 34370, "type": "quantitative", "scale": {"domain": [-42324, 37070], "nice": false, "zero": false}, "axis": null}, "text": {"field": "t"}}},
 {"data": {"values": [{"t": "D"}]}, "mark": {"type": "text", "angle": 270, "align": "left", "baseline": "alphabetic", "fontSize": 21, "fontWeight": "bold"},
  "encoding": {"x": {"datum": 28174603, "type": "quantitative", "scale": {"domain": [-73412698, 72301587], "reverse": true, "nice": false, "zero": false}, "axis": null}, "y": {"datum": -3241, "type": "quantitative", "scale": {"domain": [-42324, 37070], "nice": false, "zero": false}, "axis": null}, "text": {"field": "t"}}},

 {"data": {"values": [{"a": 14684, "b": -4699, "c": -4667, "d": 22889}]}, "mark": {"type": "rect", "fill": "#ffffff", "fillOpacity": 0.8, "stroke": "#8c8c8c", "strokeWidth": 1.5},
  "encoding": {"x": {"field": "a", "type": "quantitative", "scale": {"domain": [-116300, 18502], "reverse": true, "nice": false, "zero": false}, "axis": null}, "x2": {"field": "b"}, "y": {"field": "c", "type": "quantitative", "scale": {"domain": [-75185, 44593], "nice": false, "zero": false}, "axis": null}, "y2": {"field": "d"}}},
 {"data": {"values": [{"g": 2000}, {"g": 4000}, {"g": 6000}, {"g": 8000}, {"g": 10000}, {"g": 12000}]}, "mark": {"type": "rule", "color": "#d4d4d4", "strokeWidth": 1},
  "encoding": {"x": {"field": "g", "type": "quantitative", "scale": {"domain": [-116300, 18502], "reverse": true, "nice": false, "zero": false}, "axis": null}, "y": {"datum": 0, "type": "quantitative", "scale": {"domain": [-75185, 44593], "nice": false, "zero": false}, "axis": null}, "y2": {"datum": 20300}}},
 {"data": {"values": [{"a": 0, "b": 20000}]}, "mark": {"type": "rule", "color": "#000000", "strokeWidth": 1},
  "encoding": {"x": {"datum": 0, "type": "quantitative", "scale": {"domain": [-116300, 18502], "reverse": true, "nice": false, "zero": false}, "axis": null}, "y": {"field": "a", "type": "quantitative", "scale": {"domain": [-75185, 44593], "nice": false, "zero": false}, "axis": null}, "y2": {"field": "b"}}},
 {"data": {"values": [{"a": 0, "b": 12000}]}, "mark": {"type": "rule", "color": "#000000", "strokeWidth": 1},
  "encoding": {"x": {"field": "a", "type": "quantitative", "scale": {"domain": [-116300, 18502], "reverse": true, "nice": false, "zero": false}, "axis": null}, "x2": {"field": "b"}, "y": {"datum": 0, "type": "quantitative", "scale": {"domain": [-75185, 44593], "nice": false, "zero": false}, "axis": null}}},
 {"data": {"name": "innerB"}, "mark": {"type": "line", "color": "#000000", "strokeWidth": 1.3},
  "encoding": {"x": {"field": "cov", "type": "quantitative", "scale": {"domain": [-116300, 18502], "reverse": true, "nice": false, "zero": false},
     "axis": {"orient": "bottom", "offset": -1015, "values": [0, 4000, 8000, 12000], "labelExpr": "datum.value == 0 ? '0' : format(datum.value / 1000, 'd') + 'k'", "labelAngle": 270, "labelAlign": "right", "labelBaseline": "middle", "labelFontSize": 16, "ticks": true, "tickSize": 5, "labelPadding": 5, "domain": false, "grid": false, "title": null, "labelFlush": false, "labelOverlap": false, "zindex": 2}},
   "y": {"field": "pos", "type": "quantitative", "scale": {"domain": [-75185, 44593], "nice": false, "zero": false},
     "axis": {"orient": "right", "offset": -792, "values": [0, 5000, 10000, 15000, 20000], "format": "d", "labelAngle": 270, "labelAlign": "center", "labelBaseline": "top", "labelFontSize": 16, "labelPadding": 4, "ticks": true, "tickSize": 5, "domain": false, "grid": false, "title": null, "labelFlush": false, "labelOverlap": false, "zindex": 2}},
   "order": {"field": "pos", "type": "quantitative"}}},

 {"data": {"values": [{"a": 1212500, "b": -425000, "c": -4667, "d": 22889}]}, "mark": {"type": "rect", "fill": "#ffffff", "fillOpacity": 0.8, "stroke": "#8c8c8c", "strokeWidth": 1.5},
  "encoding": {"x": {"field": "a", "type": "quantitative", "scale": {"domain": [-6762500, 4712500], "reverse": true, "nice": false, "zero": false}, "axis": null}, "x2": {"field": "b"}, "y": {"field": "c", "type": "quantitative", "scale": {"domain": [-75185, 44593], "nice": false, "zero": false}, "axis": null}, "y2": {"field": "d"}}},
 {"data": {"values": [{"g": 200000}, {"g": 400000}, {"g": 600000}, {"g": 800000}, {"g": 1000000}]}, "mark": {"type": "rule", "color": "#d4d4d4", "strokeWidth": 1},
  "encoding": {"x": {"field": "g", "type": "quantitative", "scale": {"domain": [-6762500, 4712500], "reverse": true, "nice": false, "zero": false}, "axis": null}, "y": {"datum": 0, "type": "quantitative", "scale": {"domain": [-75185, 44593], "nice": false, "zero": false}, "axis": null}, "y2": {"datum": 20300}}},
 {"data": {"values": [{"a": 0, "b": 20000}]}, "mark": {"type": "rule", "color": "#000000", "strokeWidth": 1},
  "encoding": {"x": {"datum": 0, "type": "quantitative", "scale": {"domain": [-6762500, 4712500], "reverse": true, "nice": false, "zero": false}, "axis": null}, "y": {"field": "a", "type": "quantitative", "scale": {"domain": [-75185, 44593], "nice": false, "zero": false}, "axis": null}, "y2": {"field": "b"}}},
 {"data": {"values": [{"a": 0, "b": 1000000}]}, "mark": {"type": "rule", "color": "#000000", "strokeWidth": 1},
  "encoding": {"x": {"field": "a", "type": "quantitative", "scale": {"domain": [-6762500, 4712500], "reverse": true, "nice": false, "zero": false}, "axis": null}, "x2": {"field": "b"}, "y": {"datum": 0, "type": "quantitative", "scale": {"domain": [-75185, 44593], "nice": false, "zero": false}, "axis": null}}},
 {"data": {"name": "innerD"}, "mark": {"type": "line", "color": "#000000", "strokeWidth": 1.3},
  "encoding": {"x": {"field": "cov", "type": "quantitative", "scale": {"domain": [-6762500, 4712500], "reverse": true, "nice": false, "zero": false},
     "axis": {"orient": "bottom", "offset": -1015, "values": [0, 400000, 800000, 1000000], "labelExpr": "datum.value == 0 ? '0' : format(datum.value / 1000000, '.1~f') + 'M'", "labelAngle": 270, "labelAlign": "right", "labelBaseline": "middle", "labelFontSize": 16, "ticks": true, "tickSize": 5, "labelPadding": 5, "domain": false, "grid": false, "title": null, "labelFlush": false, "labelOverlap": false, "zindex": 2}},
   "y": {"field": "pos", "type": "quantitative", "scale": {"domain": [-75185, 44593], "nice": false, "zero": false},
     "axis": {"orient": "right", "offset": -541, "values": [0, 5000, 10000, 15000, 20000], "format": "d", "labelAngle": 270, "labelAlign": "center", "labelBaseline": "top", "labelFontSize": 16, "labelPadding": 4, "ticks": true, "tickSize": 5, "domain": false, "grid": false, "title": null, "labelFlush": false, "labelOverlap": false, "zindex": 2}},
   "order": {"field": "pos", "type": "quantitative"}}},

 {"data": {"name": "flowsA"}, "mark": {"type": "area", "orient": "horizontal", "interpolate": "basis", "color": "#d9d9d9", "opacity": 1},
  "encoding": {"y": {"field": "s", "type": "quantitative", "scale": {"domain": [-0.7214, 7.3234], "nice": false, "zero": false}, "axis": null}, "x": {"field": "lo", "type": "quantitative", "scale": {"domain": [-56.56, 677.84], "nice": false, "zero": false}, "axis": null}, "x2": {"field": "hi"}, "detail": {"field": "flow", "type": "nominal"}}},
 {"data": {"name": "nodesA"}, "mark": {"type": "rect", "stroke": "#333333", "strokeWidth": 1},
  "encoding": {"x": {"field": "x0", "type": "quantitative", "scale": {"domain": [-56.56, 677.84], "nice": false, "zero": false}, "axis": null}, "x2": {"field": "x1"}, "y": {"field": "y0", "type": "quantitative", "scale": {"domain": [-0.7214, 7.3234], "nice": false, "zero": false}, "axis": null}, "y2": {"field": "y1"},
   "color": {"field": "node", "type": "nominal", "scale": {"domain": ["Total","Virus","Host","Control","Unmapped","Leader+","No leader","Nuclear","Mitochondrial"], "range": ["#99ccff","#ffcc00","#66cc99","#9966cc","#555555","#ffbb00","#ece3ba","#2db86c","#b6e6cc"]}, "legend": null}}},
 {"data": {"name": "belowA"}, "mark": {"type": "text", "angle": 270, "align": "right", "baseline": "middle", "fontSize": 20},
  "encoding": {"x": {"field": "x", "type": "quantitative", "scale": {"domain": [-56.56, 677.84], "nice": false, "zero": false}, "axis": null}, "y": {"field": "s", "type": "quantitative", "scale": {"domain": [-0.7214, 7.3234], "nice": false, "zero": false}, "axis": null}, "text": {"field": "l1"}}},
 {"data": {"name": "belowA"}, "mark": {"type": "text", "angle": 270, "align": "right", "baseline": "middle", "fontSize": 20, "dy": 24},
  "encoding": {"x": {"field": "x", "type": "quantitative", "scale": {"domain": [-56.56, 677.84], "nice": false, "zero": false}, "axis": null}, "y": {"field": "s", "type": "quantitative", "scale": {"domain": [-0.7214, 7.3234], "nice": false, "zero": false}, "axis": null}, "text": {"field": "l2"}}},
 {"data": {"name": "aboveA"}, "mark": {"type": "text", "angle": 270, "align": "left", "baseline": "middle", "fontSize": 20},
  "encoding": {"x": {"field": "x", "type": "quantitative", "scale": {"domain": [-56.56, 677.84], "nice": false, "zero": false}, "axis": null}, "y": {"field": "s", "type": "quantitative", "scale": {"domain": [-0.7214, 7.3234], "nice": false, "zero": false}, "axis": null}, "text": {"field": "l1"}}},
 {"data": {"name": "aboveA"}, "mark": {"type": "text", "angle": 270, "align": "left", "baseline": "middle", "fontSize": 20, "dy": 24},
  "encoding": {"x": {"field": "x", "type": "quantitative", "scale": {"domain": [-56.56, 677.84], "nice": false, "zero": false}, "axis": null}, "y": {"field": "s", "type": "quantitative", "scale": {"domain": [-0.7214, 7.3234], "nice": false, "zero": false}, "axis": null}, "text": {"field": "l2"}}},
 {"data": {"values": [{"t": "A", "x": -35.5, "s": -0.682}]}, "mark": {"type": "text", "angle": 270, "align": "left", "baseline": "alphabetic", "fontSize": 22, "fontWeight": "bold"},
  "encoding": {"x": {"field": "x", "type": "quantitative", "scale": {"domain": [-56.56, 677.84], "nice": false, "zero": false}, "axis": null}, "y": {"field": "s", "type": "quantitative", "scale": {"domain": [-0.7214, 7.3234], "nice": false, "zero": false}, "axis": null}, "text": {"field": "t"}}},
 {"data": {"values": [{"t": "Nanopore Direct RNA Sequencing", "x": -35.5, "s": -0.547}]}, "mark": {"type": "text", "angle": 270, "align": "left", "baseline": "alphabetic", "fontSize": 22},
  "encoding": {"x": {"field": "x", "type": "quantitative", "scale": {"domain": [-56.56, 677.84], "nice": false, "zero": false}, "axis": null}, "y": {"field": "s", "type": "quantitative", "scale": {"domain": [-0.7214, 7.3234], "nice": false, "zero": false}, "axis": null}, "text": {"field": "t"}}},

 {"data": {"name": "flowsC"}, "mark": {"type": "area", "orient": "horizontal", "interpolate": "basis", "color": "#d9d9d9", "opacity": 1},
  "encoding": {"y": {"field": "s", "type": "quantitative", "scale": {"domain": [-0.7214, 7.3234], "nice": false, "zero": false}, "axis": null}, "x": {"field": "lo", "type": "quantitative", "scale": {"domain": [-209.86, 423.24], "nice": false, "zero": false}, "axis": null}, "x2": {"field": "hi"}, "detail": {"field": "flow", "type": "nominal"}}},
 {"data": {"name": "nodesC"}, "mark": {"type": "rect", "stroke": "#333333", "strokeWidth": 1},
  "encoding": {"x": {"field": "x0", "type": "quantitative", "scale": {"domain": [-209.86, 423.24], "nice": false, "zero": false}, "axis": null}, "x2": {"field": "x1"}, "y": {"field": "y0", "type": "quantitative", "scale": {"domain": [-0.7214, 7.3234], "nice": false, "zero": false}, "axis": null}, "y2": {"field": "y1"},
   "color": {"field": "node", "type": "nominal", "scale": {"domain": ["Total","Virus","Host","Unmapped","Contiguous","Junction-spanning","Nuclear","Mitochondrial"], "range": ["#99ccff","#ffcc00","#66cc99","#555555","#ece3ba","#ffbb00","#2db86c","#b6e6cc"]}, "legend": null}}},
 {"data": {"name": "belowC"}, "mark": {"type": "text", "angle": 270, "align": "right", "baseline": "middle", "fontSize": 20},
  "encoding": {"x": {"field": "x", "type": "quantitative", "scale": {"domain": [-209.86, 423.24], "nice": false, "zero": false}, "axis": null}, "y": {"field": "s", "type": "quantitative", "scale": {"domain": [-0.7214, 7.3234], "nice": false, "zero": false}, "axis": null}, "text": {"field": "l1"}}},
 {"data": {"name": "belowC"}, "mark": {"type": "text", "angle": 270, "align": "right", "baseline": "middle", "fontSize": 20, "dy": 24},
  "encoding": {"x": {"field": "x", "type": "quantitative", "scale": {"domain": [-209.86, 423.24], "nice": false, "zero": false}, "axis": null}, "y": {"field": "s", "type": "quantitative", "scale": {"domain": [-0.7214, 7.3234], "nice": false, "zero": false}, "axis": null}, "text": {"field": "l2"}}},
 {"data": {"name": "aboveC"}, "mark": {"type": "text", "angle": 270, "align": "left", "baseline": "middle", "fontSize": 20},
  "encoding": {"x": {"field": "x", "type": "quantitative", "scale": {"domain": [-209.86, 423.24], "nice": false, "zero": false}, "axis": null}, "y": {"field": "s", "type": "quantitative", "scale": {"domain": [-0.7214, 7.3234], "nice": false, "zero": false}, "axis": null}, "text": {"field": "l1"}}},
 {"data": {"name": "aboveC"}, "mark": {"type": "text", "angle": 270, "align": "left", "baseline": "middle", "fontSize": 20, "dy": 24},
  "encoding": {"x": {"field": "x", "type": "quantitative", "scale": {"domain": [-209.86, 423.24], "nice": false, "zero": false}, "axis": null}, "y": {"field": "s", "type": "quantitative", "scale": {"domain": [-0.7214, 7.3234], "nice": false, "zero": false}, "axis": null}, "text": {"field": "l2"}}},
 {"data": {"values": [{"t": "C", "x": -18.1, "s": -0.682}]}, "mark": {"type": "text", "angle": 270, "align": "left", "baseline": "alphabetic", "fontSize": 22, "fontWeight": "bold"},
  "encoding": {"x": {"field": "x", "type": "quantitative", "scale": {"domain": [-209.86, 423.24], "nice": false, "zero": false}, "axis": null}, "y": {"field": "s", "type": "quantitative", "scale": {"domain": [-0.7214, 7.3234], "nice": false, "zero": false}, "axis": null}, "text": {"field": "t"}}},
 {"data": {"values": [{"t": "DNA Nanoball Sequencing", "x": -18.1, "s": -0.557}]}, "mark": {"type": "text", "angle": 270, "align": "left", "baseline": "alphabetic", "fontSize": 22},
  "encoding": {"x": {"field": "x", "type": "quantitative", "scale": {"domain": [-209.86, 423.24], "nice": false, "zero": false}, "axis": null}, "y": {"field": "s", "type": "quantitative", "scale": {"domain": [-0.7214, 7.3234], "nice": false, "zero": false}, "axis": null}, "text": {"field": "t"}}},

 {"data": {"name": "caption"}, "transform": [{"filter": "datum.line == 1"}], "mark": {"type": "text", "angle": 270, "align": "left", "baseline": "alphabetic", "font": "Liberation Serif", "fontSize": 30.5, "fontWeight": "bold"},
  "encoding": {"x": {"field": "line", "type": "quantitative", "scale": {"domain": [-15.634, 9.69], "nice": false, "zero": false}, "axis": null}, "y": {"datum": -0.008, "type": "quantitative", "scale": {"domain": [0, 1], "nice": false, "zero": false}, "axis": null}, "text": {"field": "text"}}},
 {"data": {"name": "caption"}, "transform": [{"filter": "datum.line > 1"}], "mark": {"type": "text", "angle": 270, "align": "left", "baseline": "alphabetic", "font": "Liberation Serif", "fontSize": 31.5},
  "encoding": {"x": {"field": "line", "type": "quantitative", "scale": {"domain": [-15.634, 9.69], "nice": false, "zero": false}, "axis": null}, "y": {"datum": -0.008, "type": "quantitative", "scale": {"domain": [0, 1], "nice": false, "zero": false}, "axis": null}, "text": {"field": "text"}}}
]
}
